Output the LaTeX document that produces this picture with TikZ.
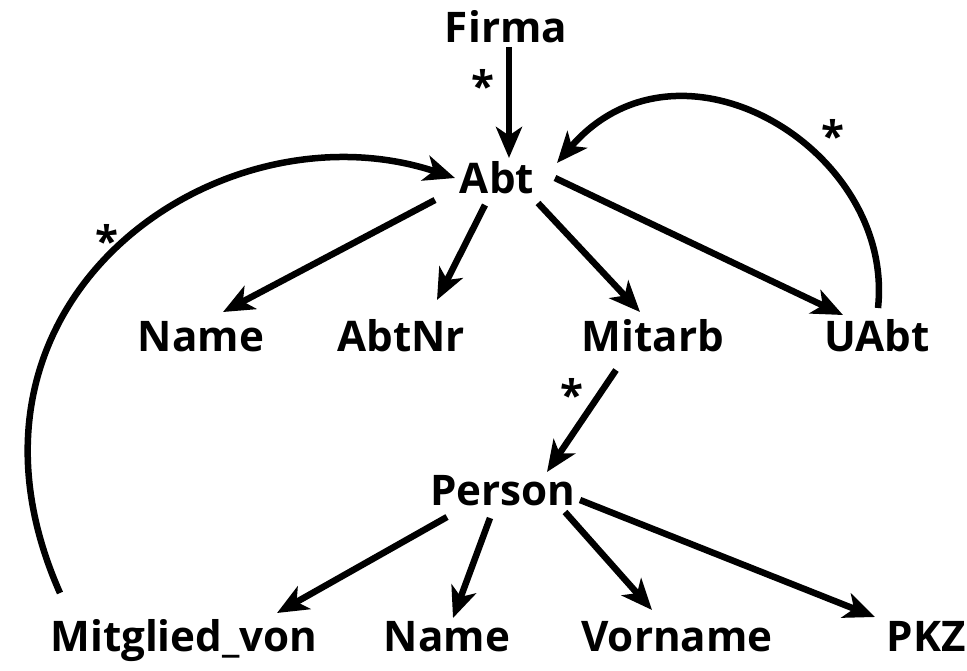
\documentclass[tikz,border=0pt]{standalone}
\usepackage{fontspec}
\setmainfont{Open Sans}
\usetikzlibrary{arrows.meta}

\begin{document}
\begin{tikzpicture}[x=0.02cm, y=-0.02cm,
  every node/.style={font=\fontsize{24}{28}\selectfont\bfseries},
  lbl/.style={anchor=base, inner sep=0pt},
  star/.style={inner sep=0pt},
  arr/.style={line width=0.13cm, -{Stealth[length=0.62cm, width=0.52cm, inset=0.17cm]}}]
\useasboundingbox (0,0) rectangle (967,670);
\node[lbl] (firma) at (506,42) {Firma};
\node[lbl] (abt) at (497,193) {Abt};
\node[lbl] (name) at (201,351) {Name};
\node[lbl] (abtnr) at (401,351) {AbtNr};
\node[lbl] (mitarb) at (653,351) {Mitarb};
\node[lbl] (uabt) at (877,351) {UAbt};
\node[lbl] (person) at (503,505) {Person};
\node[lbl] (mitglied) at (184,651) {Mitglied\_von};
\node[lbl] (pname) at (447,651) {Name};
\node[lbl] (vorname) at (677,651) {Vorname};
\node[lbl] (pkz) at (926,651) {PKZ};
\draw[arr] ([shift={(3,5)}]firma.base) -- ([shift={(12,-35)}]abt.base);
\draw[arr] ([shift={(-62,7)}]abt.base) -- ([shift={(22,-39)}]name.base);
\draw[arr] ([shift={(-12,12)}]abt.base) -- ([shift={(36,-51)}]abtnr.base);
\draw[arr] ([shift={(41,10)}]abt.base) -- ([shift={(-13,-39)}]mitarb.base);
\draw[arr] ([shift={(58,-15)}]abt.base) -- ([shift={(-34,-36)}]uabt.base);
\draw[arr] ([shift={(1,-43)}]uabt.base) .. controls +(17,-158) and +(123,-143) .. ([shift={(60,-30)}]abt.base);
\draw[arr] ([shift={(-124,-58)}]mitglied.base) .. controls +(-130,-293) and +(-235,-78) .. ([shift={(-42,-15)}]abt.base);
\draw[arr] ([shift={(-37,19)}]mitarb.base) -- ([shift={(44,-33)}]person.base);
\draw[arr] ([shift={(-56,12)}]person.base) -- ([shift={(93,-38)}]mitglied.base);
\draw[arr] ([shift={(-13,13)}]person.base) -- ([shift={(6,-33)}]pname.base);
\draw[arr] ([shift={(62,7)}]person.base) -- ([shift={(-25,-41)}]vorname.base);
\draw[arr] ([shift={(77,-5)}]person.base) -- ([shift={(-51,-34)}]pkz.base);
\node[star] (s1) at (483,85) {*};
\node[star] (s2) at (833,135) {*};
\node[star] (s3) at (107,240) {*};
\node[star] (s4) at (572,394) {*};
\end{tikzpicture}
\end{document}
